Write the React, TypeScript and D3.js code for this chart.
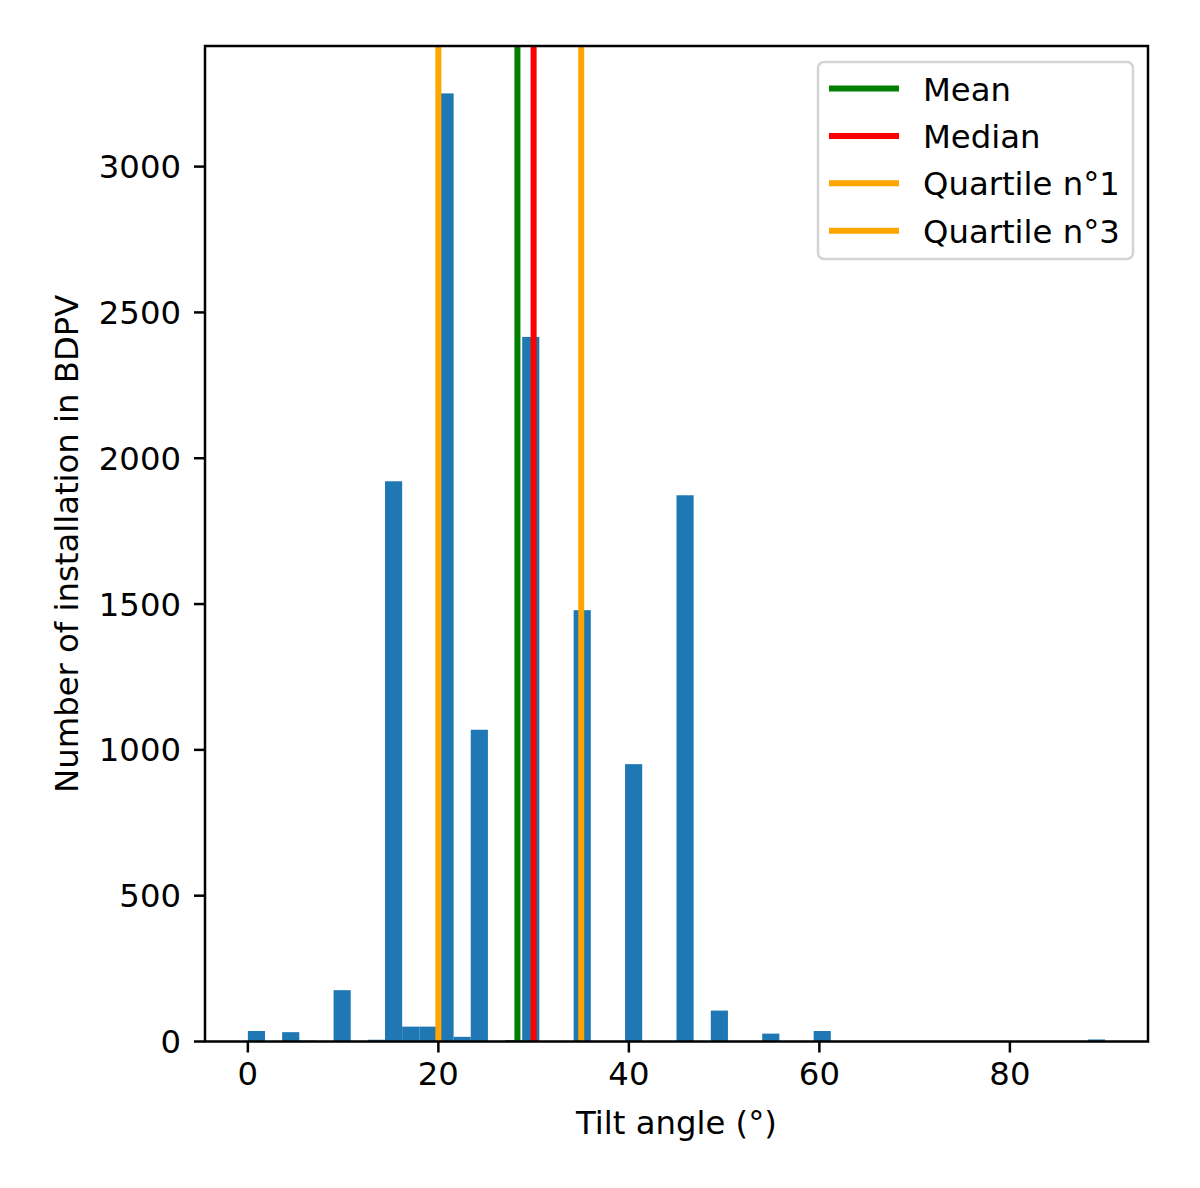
import * as d3 from 'd3'

// histogram: 50 bins of 1.8° between 0 and 90
const BIN_START = 0
const BIN_WIDTH = 1.8
const binCounts = [
  36, 0, 32, 3, 0, 176, 0, 6, 1921, 51,
  51, 3251, 16, 1069, 0, 5, 2416, 0, 0, 1479,
  0, 0, 951, 0, 0, 1873, 0, 106, 0, 0,
  27, 0, 0, 36, 0, 0, 2, 0, 2, 0,
  0, 0, 0, 0, 0, 0, 0, 0, 0, 7,
]

// summary statistics drawn as vertical lines
const statNames = ['Mean', 'Median', 'Quartile n°1', 'Quartile n°3']
const statValues = [28.3, 30, 20, 35]
const statColors = ['green', 'red', 'orange', 'orange']

const xTicks = [0, 20, 40, 60, 80]
const yTicks = [0, 500, 1000, 1500, 2000, 2500, 3000]

const W = 1200
const H = 1188
const MARGIN = { top: 46, right: 52, bottom: 146.5, left: 205 }
const FONT = '"DejaVu Sans", sans-serif'
const FS = 32.3

export default function App() {
  const boundsWidth = W - MARGIN.left - MARGIN.right
  const boundsHeight = H - MARGIN.top - MARGIN.bottom

  const bins = binCounts.map((c, i) => ({
    x0: BIN_START + i * BIN_WIDTH,
    x1: BIN_START + (i + 1) * BIN_WIDTH,
    count: c,
  }))

  // matplotlib style 5% margins
  const xMin = bins[0].x0
  const xMax = bins[bins.length - 1].x1
  const xPad = (xMax - xMin) * 0.05
  const xScale = d3.scaleLinear().domain([xMin - xPad, xMax + xPad]).range([0, boundsWidth])
  const yMax = d3.max(binCounts) ?? 1
  const yScale = d3.scaleLinear().domain([0, yMax * 1.05]).range([boundsHeight, 0])

  const legendX = 818 - MARGIN.left
  const legendY = 62 - MARGIN.top
  const rowGap = 47.4

  return (
    <div style={{ position: 'absolute', left: 0, top: 0 }}>
      <svg width={W} height={H} style={{ display: 'block', background: 'white' }} fontFamily={FONT}>
        <g transform={`translate(${MARGIN.left},${MARGIN.top})`}>
          {/* bars */}
          {bins
            .filter((b) => b.count > 0)
            .map((b, i) => (
              <rect
                key={i}
                x={xScale(b.x0)}
                y={yScale(b.count)}
                width={xScale(b.x1) - xScale(b.x0)}
                height={boundsHeight - yScale(b.count)}
                fill="#1f77b4"
              />
            ))}

          {/* stats lines */}
          {statValues.map((v, i) => (
            <line
              key={i}
              x1={xScale(v)}
              x2={xScale(v)}
              y1={0}
              y2={boundsHeight}
              stroke={statColors[i]}
              strokeWidth={6}
            />
          ))}

          {/* x axis */}
          {xTicks.map((t) => (
            <g key={t} transform={`translate(${xScale(t)},${boundsHeight})`}>
              <line y1={0} y2={11} stroke="black" strokeWidth={2.5} />
              <text y={43} textAnchor="middle" fontSize={FS} fill="black">
                {t}
              </text>
            </g>
          ))}
          <text
            x={boundsWidth / 2}
            y={boundsHeight + 92}
            textAnchor="middle"
            fontSize={FS}
            fill="black"
          >
            Tilt angle (°)
          </text>

          {/* y axis */}
          {yTicks.map((t) => (
            <g key={t} transform={`translate(0,${yScale(t)})`}>
              <line x1={0} x2={-11} stroke="black" strokeWidth={2.5} />
              <text x={-24} y={11.5} textAnchor="end" fontSize={FS} fill="black">
                {t}
              </text>
            </g>
          ))}
          <text
            transform={`translate(${78 - MARGIN.left},${boundsHeight / 2}) rotate(-90)`}
            textAnchor="middle"
            fontSize={FS}
            fill="black"
          >
            Number of installation in BDPV
          </text>

          {/* frame */}
          <rect
            x={0}
            y={0}
            width={boundsWidth}
            height={boundsHeight}
            fill="none"
            stroke="black"
            strokeWidth={2.5}
          />

          {/* legend */}
          <g transform={`translate(${legendX},${legendY})`}>
            <rect
              x={0}
              y={0}
              width={315}
              height={197}
              rx={6}
              fill="white"
              fillOpacity={0.8}
              stroke="#d4d4d4"
              strokeWidth={2.5}
            />
            {statNames.map((name, i) => (
              <g key={name} transform={`translate(0,${26.5 + i * rowGap})`}>
                <line x1={11} x2={81} stroke={statColors[i]} strokeWidth={6} />
                <text x={105} y={12} fontSize={FS} fill="black">
                  {name}
                </text>
              </g>
            ))}
          </g>
        </g>
      </svg>
    </div>
  )
}
